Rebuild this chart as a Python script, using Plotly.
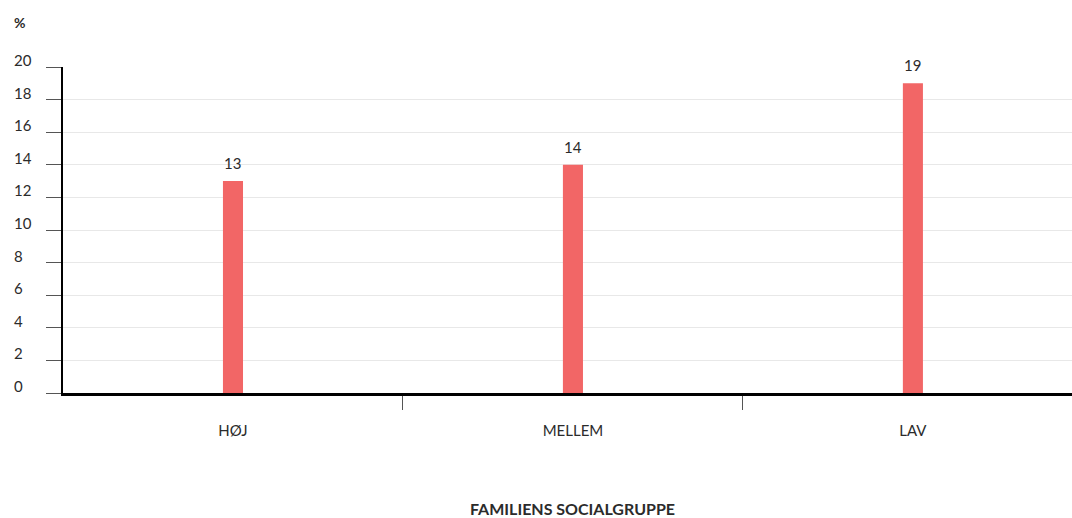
import plotly.graph_objects as go

categories = ["HØJ", "MELLEM", "LAV"]
values = [13, 14, 19]
y_ticks = [0, 2, 4, 6, 8, 10, 12, 14, 16, 18, 20]
x_title = "FAMILIENS SOCIALGRUPPE"
y_unit = "%"

FONT = "Lato"
TEXT = "#2b2b2b"
W, H = 1072, 518

positions = list(range(len(categories)))
boundaries = [p + 0.5 for p in positions[:-1]]
middle = positions[len(positions) // 2]

fig = go.Figure(
    go.Bar(
        x=positions,
        y=values,
        width=0.059,
        marker=dict(color="#f26666", line=dict(width=0)),
        hoverinfo="skip",
    )
)

annotations = [
    dict(text=str(t), x=-0.0505, xref="paper", y=t, yref="y", xanchor="left",
         yanchor="middle", yshift=7, showarrow=False,
         font=dict(family=FONT, size=15, color=TEXT))
    for t in y_ticks
]
annotations += [
    dict(text=str(v), x=p, xref="x", y=v, yref="y", xanchor="center",
         yanchor="bottom", yshift=7, showarrow=False,
         font=dict(family=FONT, size=15, color=TEXT))
    for p, v in zip(positions, values)
]
annotations.append(dict(text=f"<b>{y_unit}</b>", x=-0.0505, xref="paper", y=1.138, yref="paper",
                        xanchor="left", yanchor="middle", showarrow=False,
                        font=dict(family=FONT, size=14, color=TEXT)))
annotations.append(dict(text=f"<b>{x_title}</b>", x=middle, xref="x", y=-0.353, yref="paper",
                        xanchor="center", yanchor="middle", showarrow=False,
                        font=dict(family=FONT, size=16, color=TEXT)))

# initial size fits inside the default 8px body margin (no scrollbars);
# the post script removes the margin and grows the figure to the full window
fig.update_layout(
    width=W - 16,
    height=H - 16,
    margin=dict(l=63, r=0, t=67, b=125, pad=0, autoexpand=False),
    paper_bgcolor="white",
    plot_bgcolor="white",
    showlegend=False,
    font=dict(family=FONT, color=TEXT),
    annotations=annotations,
    xaxis=dict(
        range=[-0.5, 2.468],
        tickvals=positions,
        ticktext=categories,
        ticks="",
        minor=dict(tickvals=boundaries, ticks="outside", ticklen=14,
                   tickwidth=1, tickcolor="#555555", showgrid=False),
        showline=True,
        linecolor="black",
        linewidth=3,
        showgrid=False,
        zeroline=False,
        automargin=False,
        tickfont=dict(family=FONT, size=15, color=TEXT),
        ticklabelstandoff=22,
        fixedrange=True,
    ),
    yaxis=dict(
        range=[0, 20],
        tickvals=y_ticks,
        showticklabels=False,
        ticks="outside",
        ticklen=15,
        tickwidth=1,
        tickcolor="#555555",
        showline=True,
        linecolor="black",
        linewidth=2,
        showgrid=True,
        gridcolor="#e8e8e8",
        gridwidth=1,
        zeroline=False,
        automargin=False,
        fixedrange=True,
    ),
)

post = (
    "document.body.style.margin='0';"
    "document.documentElement.style.overflow='hidden';"
    "var gd=document.getElementById('{plot_id}');"
    f"gd.style.width='{W}px';gd.style.height='{H}px';"
    f"Plotly.relayout(gd,{{width:{W},height:{H}}});"
)

fig.write_html("out.html", config={"displayModeBar": False}, post_script=post)
